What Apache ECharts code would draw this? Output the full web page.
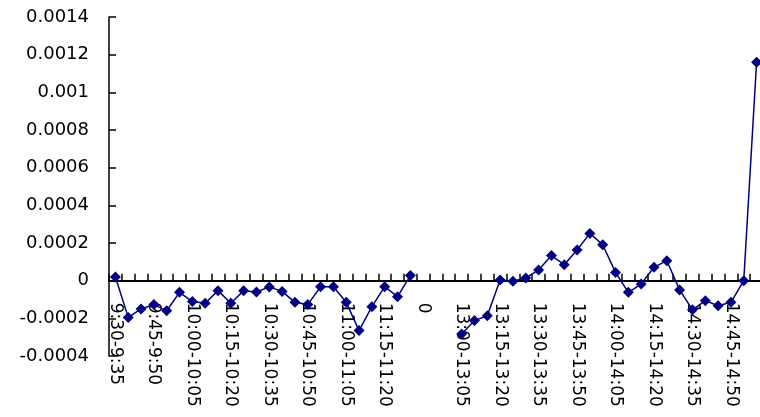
<!DOCTYPE html>
<html>
<head>
<meta charset="utf-8">
<script src="https://cdn.jsdelivr.net/npm/echarts@6/dist/echarts.min.js"></script>
<style>
  html, body { margin: 0; padding: 0; background: #fff; }
  #chart { width: 760px; height: 417px; }
</style>
</head>
<body>
<div id="chart"></div>
<script>
// 时间段 (5分钟一档)
const categories = [
  "9:30-9:35", "9:35-9:40", "9:40-9:45", "9:45-9:50", "9:50-9:55", "9:55-10:00",
  "10:00-10:05", "10:05-10:10", "10:10-10:15", "10:15-10:20", "10:20-10:25", "10:25-10:30",
  "10:30-10:35", "10:35-10:40", "10:40-10:45", "10:45-10:50", "10:50-10:55", "10:55-11:00",
  "11:00-11:05", "11:05-11:10", "11:10-11:15", "11:15-11:20", "11:20-11:25", "11:25-11:30",
  "0", "0", "0",
  "13:00-13:05", "13:05-13:10", "13:10-13:15", "13:15-13:20", "13:20-13:25", "13:25-13:30",
  "13:30-13:35", "13:35-13:40", "13:40-13:45", "13:45-13:50", "13:50-13:55", "13:55-14:00",
  "14:00-14:05", "14:05-14:10", "14:10-14:15", "14:15-14:20", "14:20-14:25", "14:25-14:30",
  "14:30-14:35", "14:35-14:40", "14:40-14:45", "14:45-14:50", "14:50-14:55", "14:55-15:00"
]

// 收益率
const values = [
  0.00002, -0.000195, -0.00015, -0.000127, -0.00016, -0.000062,
  -0.000111, -0.00012, -0.000053, -0.00012, -0.000053, -0.00006,
  -0.000033, -0.000057, -0.000115, -0.000127, -0.000032, -0.000032,
  -0.000115, -0.000265, -0.000138, -0.000032, -0.000085, 0.000027,
  null, null, null,
  -0.000283, -0.000212, -0.000186, 0.000003, -0.000003, 0.000014,
  0.000057, 0.000133, 0.000085, 0.000163, 0.000251, 0.000191,
  0.000044, -0.000062, -0.000018, 0.000071, 0.000106, -0.000049,
  -0.000155, -0.000106, -0.000133, -0.000115, 0.0, 0.00116
]

// 纵轴刻度
const yMin = -0.0004
const yMax = 0.0014
const yStep = 0.0002

const gridTop = 17
const gridBottom = 61
const chartHeight = 417
const plotHeight = chartHeight - gridTop - gridBottom
// 把横轴 (连同标签) 挪到 0 线上
const zeroOffset = -plotHeight * (0 - yMin) / (yMax - yMin)

const chart = echarts.init(document.getElementById("chart"))

const option = {
  backgroundColor: "#fff",
  animation: false,
  grid: {
    left: 109,
    right: -3,
    top: gridTop,
    bottom: gridBottom,
    containLabel: false,
    outerBoundsMode: "none",
  },
  xAxis: {
    type: "category",
    data: categories,
    boundaryGap: true,
    position: "bottom",
    offset: zeroOffset,
    axisLine: {
      onZero: false,
      lineStyle: { color: "#000", width: 2 },
    },
    axisTick: {
      show: true,
      inside: true,
      length: 7,
      interval: 0,
      lineStyle: { color: "#000", width: 1.5 },
    },
    axisLabel: {
      interval: 2,
      rotate: -90,
      margin: 22,
      color: "#000",
      fontFamily: "DejaVu Sans",
      fontSize: 17,
    },
    splitLine: { show: false },
  },
  yAxis: {
    type: "value",
    min: yMin,
    max: yMax,
    interval: yStep,
    axisLine: {
      show: true,
      lineStyle: { color: "#000", width: 1.5 },
    },
    axisTick: {
      show: true,
      inside: true,
      length: 7,
      lineStyle: { color: "#000", width: 1.5 },
    },
    axisLabel: {
      margin: 20,
      color: "#000",
      fontFamily: "DejaVu Sans",
      fontSize: 18,
      formatter: (v) => String(parseFloat(v.toFixed(4))),
    },
    splitLine: { show: false },
  },
  series: [
    {
      type: "line",
      data: values,
      connectNulls: false,
      symbol: "diamond",
      symbolSize: 11,
      showAllSymbol: true,
      itemStyle: { color: "#000080" },
      lineStyle: { color: "#000080", width: 1.5 },
    },
  ],
}

chart.setOption(option)
</script>
</body>
</html>
